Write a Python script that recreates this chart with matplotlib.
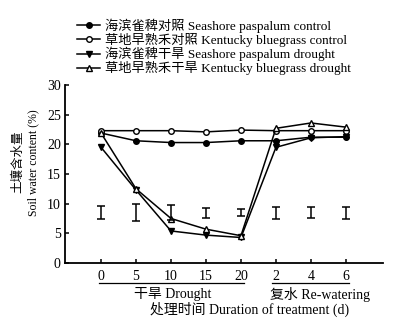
import matplotlib
matplotlib.use("Agg")
import matplotlib.pyplot as plt
import matplotlib.transforms as mtransforms
import numpy as np

plt.rcParams['font.family'] = ['Liberation Serif', 'Noto Sans CJK SC']
plt.rcParams['font.size'] = 10

# Data
tick_labels = ["0", "5", "10", "15", "20", "2", "4", "6"]
sp_control = [21.9, 20.6, 20.3, 20.3, 20.6, 20.6, 21.2, 21.2]
kb_control = [22.3, 22.3, 22.3, 22.1, 22.4, 22.3, 22.3, 22.3]
sp_drought = [19.5, 12.3, 5.4, 4.7, 4.3, 19.5, 21.1, 21.3]
kb_drought = [21.9, 12.5, 7.5, 5.7, 4.6, 22.7, 23.6, 22.9]
lsd_center = [8.5, 8.5, 8.5, 8.4, 8.5, 8.5, 8.5, 8.4]
lsd_half = [1.1, 1.4, 1.25, 0.8, 0.6, 1.0, 0.9, 1.05]

labels = ["海滨雀稗对照 Seashore paspalum control",
          "草地早熟禾对照 Kentucky bluegrass control",
          "海滨雀稗干旱 Seashore paspalum drought",
          "草地早熟禾干旱 Kentucky bluegrass drought"]

x = np.arange(len(tick_labels))

fig = plt.figure(figsize=(4.08, 3.28), dpi=100)
ax = fig.add_axes([65/408, 1-263/328, (383-65)/408, (263-85)/328])

lw = 1.1
ms = 4
h1, = ax.plot(x, sp_control, '-', color='black', lw=lw, marker='o', ms=ms, mfc='black', mec='black')
h2, = ax.plot(x, kb_control, '-', color='black', lw=lw, marker='o', ms=ms, mfc='white', mec='black')
h3, = ax.plot(x, sp_drought, '-', color='black', lw=lw, marker='v', ms=ms, mfc='black', mec='black')
h4, = ax.plot(x, kb_drought, '-', color='black', lw=lw, marker='^', ms=ms, mfc='white', mec='black')

ax.errorbar(x, lsd_center, yerr=lsd_half, fmt='none', ecolor='black', elinewidth=1.1, capsize=3, capthick=1.1)

ax.set_xlim(-1.03, 8.06)
ax.set_ylim(0, 30)
ax.set_yticks([0, 5, 10, 15, 20, 25, 30])
ax.set_xticks(x)
ax.set_xticklabels(tick_labels)
ax.tick_params(direction='in', length=3, width=1.1, pad=5, labelsize=10)
ax.tick_params(axis='y', pad=3)
for s in ['top', 'right']:
    ax.spines[s].set_visible(False)
for s in ['left', 'bottom']:
    ax.spines[s].set_linewidth(1.3)

# group annotations below axis
trans = mtransforms.blended_transform_factory(ax.transData, ax.transAxes)
ax.plot([-0.05, 4.1], [-0.113, -0.113], color='black', lw=0.9, transform=trans, clip_on=False)
ax.plot([4.9, 7.1], [-0.113, -0.113], color='black', lw=0.9, transform=trans, clip_on=False)
ax.text(2.05, -0.175, "干旱 Drought", transform=trans, ha='center', va='center', fontsize=10)
ax.text(6.25, -0.175, "复水 Re-watering", transform=trans, ha='center', va='center', fontsize=10)
fig.text(250/408, 1-309/328, "处理时间 Duration of treatment (d)", ha='center', va='center', fontsize=10)

# y label two lines
fig.text(18/408, 1-162/328, "土壤含水量", rotation=90, ha='center', va='center', fontsize=9)
fig.text(33/408, 1-163/328, "Soil water content (%)", rotation=90, ha='center', va='center', fontsize=8.5)

fig.legend([h1, h2, h3, h4], labels, loc='upper left', bbox_to_anchor=(77/408, 1-18.5/328),
           frameon=False, handlelength=1.75, handletextpad=0.4, labelspacing=0.0,
           borderaxespad=0, borderpad=0, fontsize=9.5)

fig.savefig("out.png", dpi=100)
